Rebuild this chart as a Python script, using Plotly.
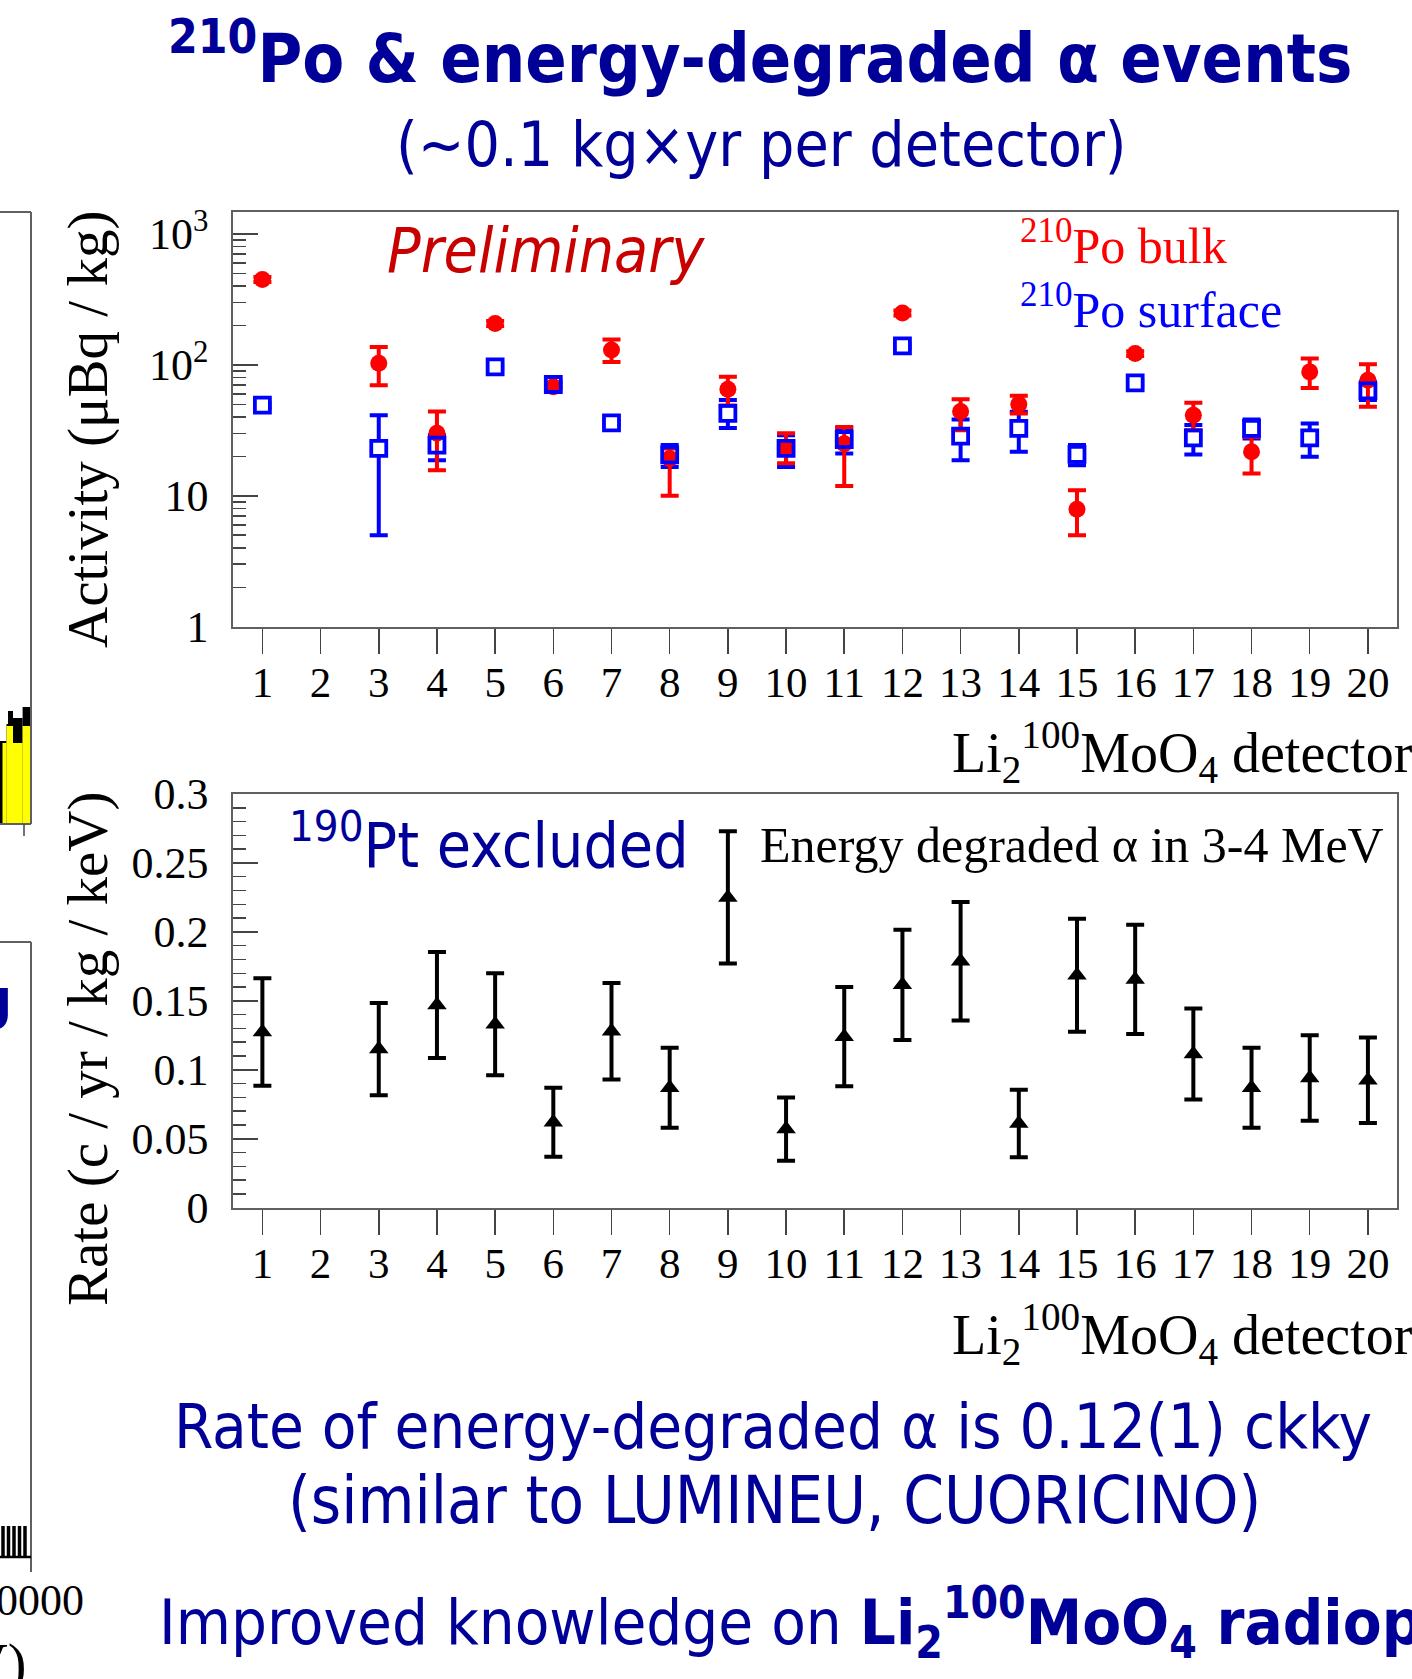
import plotly.graph_objects as go

W, H = 1412, 1679

# ---------------- data ----------------
detectors = [1, 3, 4, 5, 6, 7, 8, 9, 10, 11, 12, 13, 14, 15, 16, 17, 18, 19, 20]

# 210Po bulk activity (uBq/kg): value, upper end, lower end of error bar
bulk_val = [449, 103, 30, 207, 68, 130, 19.3, 65, 23, 25, 249, 44, 50, 7.9, 122, 41.3, 21.7, 88.4, 76.4]
bulk_hi = [470, 137, 44, 216, 71, 156, 23, 81, 30, 33.6, 260, 54.7, 58, 11.0, 127, 51.3, 28.2, 112, 101]
bulk_lo = [430, 70, 15.7, 198, 65, 105, 10, 49, 17.7, 11.9, 238, 31.7, 42.6, 5.0, 117, 31.7, 14.8, 66.7, 47.8]

# 210Po surface activity (uBq/kg)
surf_val = [49.2, 23, 24.4, 96.6, 70.8, 36.1, 20.5, 42.6, 23, 26.9, 139.7, 28.6, 32.7, 20.7, 72.9, 27.7, 32.7, 27.7, 63.4]
surf_hi = [51, 41.3, 29, 100, 74, 37.5, 24.4, 53.8, 29, 33, 145, 38.3, 43.8, 24.4, 76, 34.7, 38.3, 35.7, 74.2]
surf_lo = [47, 5.0, 18.7, 93, 68, 34.8, 16.6, 33, 16.6, 21, 134, 18.7, 21.7, 17.1, 70, 20.7, 27.4, 19.9, 53.8]

# Energy-degraded alpha rate in 3-4 MeV (c/yr/kg/keV)
rate_val = [0.1274, 0.115, 0.147, 0.133, 0.062, 0.128, 0.087, 0.225, 0.057, 0.124,
            0.1616, 0.1787, 0.061, 0.1686, 0.1655, 0.1115, 0.087, 0.094, 0.0925]
rate_err = [0.039, 0.0334, 0.0385, 0.037, 0.025, 0.035, 0.029, 0.048, 0.023, 0.036,
            0.040, 0.043, 0.0245, 0.041, 0.0396, 0.033, 0.029, 0.031, 0.031]

x_ticks = list(range(1, 21))
act_tickvals = [1, 10, 100, 1000]
act_ticktext = ["1", "10", "10<sup>2</sup>", "10<sup>3</sup>"]
act_minor = [m * d for d in (1, 10, 100) for m in range(2, 10)]
rate_tickvals = [0, 0.05, 0.1, 0.15, 0.2, 0.25, 0.3]
rate_ticktext = ["0", "0.05", "0.1", "0.15", "0.2", "0.25", "0.3"]

bulk_plus = [h - v for h, v in zip(bulk_hi, bulk_val)]
bulk_minus = [v - l for l, v in zip(bulk_lo, bulk_val)]
surf_plus = [h - v for h, v in zip(surf_hi, surf_val)]
surf_minus = [v - l for l, v in zip(surf_lo, surf_val)]

# ---------------- styling ----------------
SANS = "DejaVu Sans Condensed, DejaVu Sans, sans-serif"
SERIF = "Liberation Serif, Times New Roman, serif"
NAVY = "#000099"
RED = "#ff0000"
BLUE = "#0000ff"
FRAME = "#606060"
TICK = "#444444"


def px(x):
    return x / W


def py(y):
    return 1 - y / H


fig = go.Figure()

# top panel: blue error bars (drawn first)
fig.add_trace(go.Scatter(
    x=detectors, y=surf_val, mode="markers", xaxis="x", yaxis="y",
    marker=dict(size=2, opacity=0),
    error_y=dict(type="data", symmetric=False, array=surf_plus, arrayminus=surf_minus,
                 color=BLUE, thickness=4, width=9),
))
# mask inside the open squares
fig.add_trace(go.Scatter(
    x=detectors, y=surf_val, mode="markers", xaxis="x", yaxis="y",
    marker=dict(symbol="square", size=14, color="white", line=dict(width=0)),
))
# bulk
fig.add_trace(go.Scatter(
    x=detectors, y=bulk_val, mode="markers", xaxis="x", yaxis="y",
    marker=dict(symbol="circle", size=17, color=RED, line=dict(width=0)),
    error_y=dict(type="data", symmetric=False, array=bulk_plus, arrayminus=bulk_minus,
                 color=RED, thickness=4, width=9),
))
# surface open squares
fig.add_trace(go.Scatter(
    x=detectors, y=surf_val, mode="markers", xaxis="x", yaxis="y",
    marker=dict(symbol="square-open", size=15, color=BLUE, line=dict(width=3.8, color=BLUE)),
))

# bottom panel
fig.add_trace(go.Scatter(
    x=detectors, y=rate_val, mode="markers", xaxis="x2", yaxis="y2",
    marker=dict(symbol="triangle-up", size=17, color="black", line=dict(width=0)),
    error_y=dict(type="data", array=rate_err, color="black", thickness=4, width=9),
))

xdom = [px(233.3), px(1397)]
axis_common = dict(showgrid=False, zeroline=False, showline=True, linecolor=FRAME,
                   linewidth=2, mirror=True, automargin=False)
xcommon = dict(axis_common, range=[0.5, 20.5], tickmode="array", tickvals=x_ticks,
               ticks="outside", ticklen=25, tickwidth=1.5, tickcolor=TICK,
               tickfont=dict(family=SERIF, size=43, color="black"), ticklabelstandoff=-8)

fig.update_layout(
    width=W, height=H, autosize=False,
    margin=dict(l=0, r=0, t=0, b=0, pad=0, autoexpand=False),
    paper_bgcolor="white", plot_bgcolor="white",
    showlegend=False, hovermode=False,
    xaxis=dict(xcommon, domain=xdom, anchor="y"),
    yaxis=dict(axis_common, domain=[py(626.7), py(211.7)], anchor="x", type="log",
               range=[0, 3.17], tickmode="array", tickvals=act_tickvals, ticktext=act_ticktext,
               ticks="inside", ticklen=25, tickwidth=1.5, tickcolor=TICK,
               minor=dict(tickmode="array", tickvals=act_minor, ticks="inside", ticklen=13,
                          tickwidth=1.5, tickcolor=TICK),
               tickfont=dict(family=SERIF, size=44, color="black"), ticklabelstandoff=14),
    xaxis2=dict(xcommon, domain=xdom, anchor="y2"),
    yaxis2=dict(axis_common, domain=[py(1207.7), py(794)], anchor="x2",
                range=[0, 0.3], tickmode="array", tickvals=rate_tickvals, ticktext=rate_ticktext,
                ticks="inside", ticklen=25, tickwidth=1.5, tickcolor=TICK,
                minor=dict(dtick=0.01, tick0=0, ticks="inside", ticklen=13,
                           tickwidth=1.5, tickcolor=TICK),
                tickfont=dict(family=SERIF, size=44, color="black"), ticklabelstandoff=14),
)


def ann(text, x, y, size, color, family, xanchor="center", yanchor="middle", angle=0):
    return dict(text=text, x=px(x), y=py(y), xref="paper", yref="paper", showarrow=False,
                xanchor=xanchor, yanchor=yanchor, textangle=angle,
                font=dict(family=family, size=size, color=color))


xtitle = "Li<sub>2</sub><sup>100</sup>MoO<sub>4</sub> detector"
annotations = [
    ann("<b><sup>210</sup>Po &amp; energy-degraded α events</b>", 760, 54, 68, NAVY, SANS),
    ann("(~0.1 kg×yr per detector)", 761, 144, 62, NAVY, SANS),
    ann("<i>Preliminary</i>", 385, 250, 62, "#c80000", SANS, xanchor="left"),
    ann("<sup>210</sup>Po bulk", 1018, 243, 50, RED, SERIF, xanchor="left"),
    ann("<sup>210</sup>Po surface", 1018, 306, 50, BLUE, SERIF, xanchor="left"),
    ann(xtitle, 950, 752, 56, "black", SERIF, xanchor="left"),
    ann("Activity (μBq / kg)", 88, 430, 57, "black", SERIF, angle=-90),
    ann("<sup>190</sup>Pt excluded", 287, 842, 62, NAVY, SANS, xanchor="left"),
    ann("Energy degraded α in 3-4 MeV", 758, 845, 50, "black", SERIF, xanchor="left"),
    ann(xtitle, 950, 1334, 56, "black", SERIF, xanchor="left"),
    ann("Rate (c / yr / kg / keV)", 88, 1049, 57, "black", SERIF, angle=-90),
    ann("Rate of energy-degraded α is 0.12(1) ckky", 773, 1426, 63, NAVY, SANS),
    ann("(similar to LUMINEU, CUORICINO)", 774, 1500, 65, NAVY, SANS),
    ann("Improved knowledge on <b>Li<sub>2</sub><sup>100</sup>MoO<sub>4</sub> radiopurity</b>",
        157, 1622, 63, NAVY, SANS, xanchor="left"),
    # fragments of the neighbouring (cropped) figure on the left
    ann("<b>g</b>", 14, 998, 56, NAVY, SANS, xanchor="right"),
    ann("10000", 86, 1600, 44, "black", SERIF, xanchor="right"),
    ann("Energy (keV)", 28, 1664, 56, "black", SERIF, xanchor="right"),
]
fig.update_layout(annotations=annotations)


def line(x0, y0, x1, y1, color=FRAME, width=2):
    return dict(type="line", xref="paper", yref="paper", x0=px(x0), y0=py(y0),
                x1=px(x1), y1=py(y1), line=dict(color=color, width=width))


def rect(x0, y0, x1, y1, fill, lw=0, lc="black"):
    return dict(type="rect", xref="paper", yref="paper", x0=px(x0), y0=py(y0),
                x1=px(x1), y1=py(y1), fillcolor=fill, line=dict(width=lw, color=lc), layer="above")


shapes = [
    line(0, 212, 31, 212), line(31, 212, 31, 824),
    # black histogram behind the yellow one
    rect(0, 741, 6.5, 824, "black"), rect(6.5, 724, 8, 824, "black"),
    rect(8, 711, 13, 824, "black"), rect(13, 718, 22.6, 824, "black"),
    rect(22.6, 707, 30, 824, "black"),
    # yellow histogram
    rect(2.5, 743, 6.5, 824, "#ffff00"), rect(6.5, 726, 13, 824, "#ffff00"),
    rect(13, 743, 22.6, 824, "#ffff00"), rect(22.6, 726, 30, 824, "#ffff00"),
    line(0, 824, 31, 824), line(24, 824, 24, 836, TICK, 1.5),
    line(0, 942, 31, 942), line(31, 942, 31, 1572),
    line(0, 1557, 31, 1557, "black", 2.5),
]
for xb in (3, 8.5, 14, 19.5, 25):
    shapes.append(line(xb, 1526, xb, 1557, "black", 3.5))
fig.update_layout(shapes=shapes)

fig.write_html("out.html", config={"displayModeBar": False, "staticPlot": True},
               post_script="document.body.style.margin='0px';")
